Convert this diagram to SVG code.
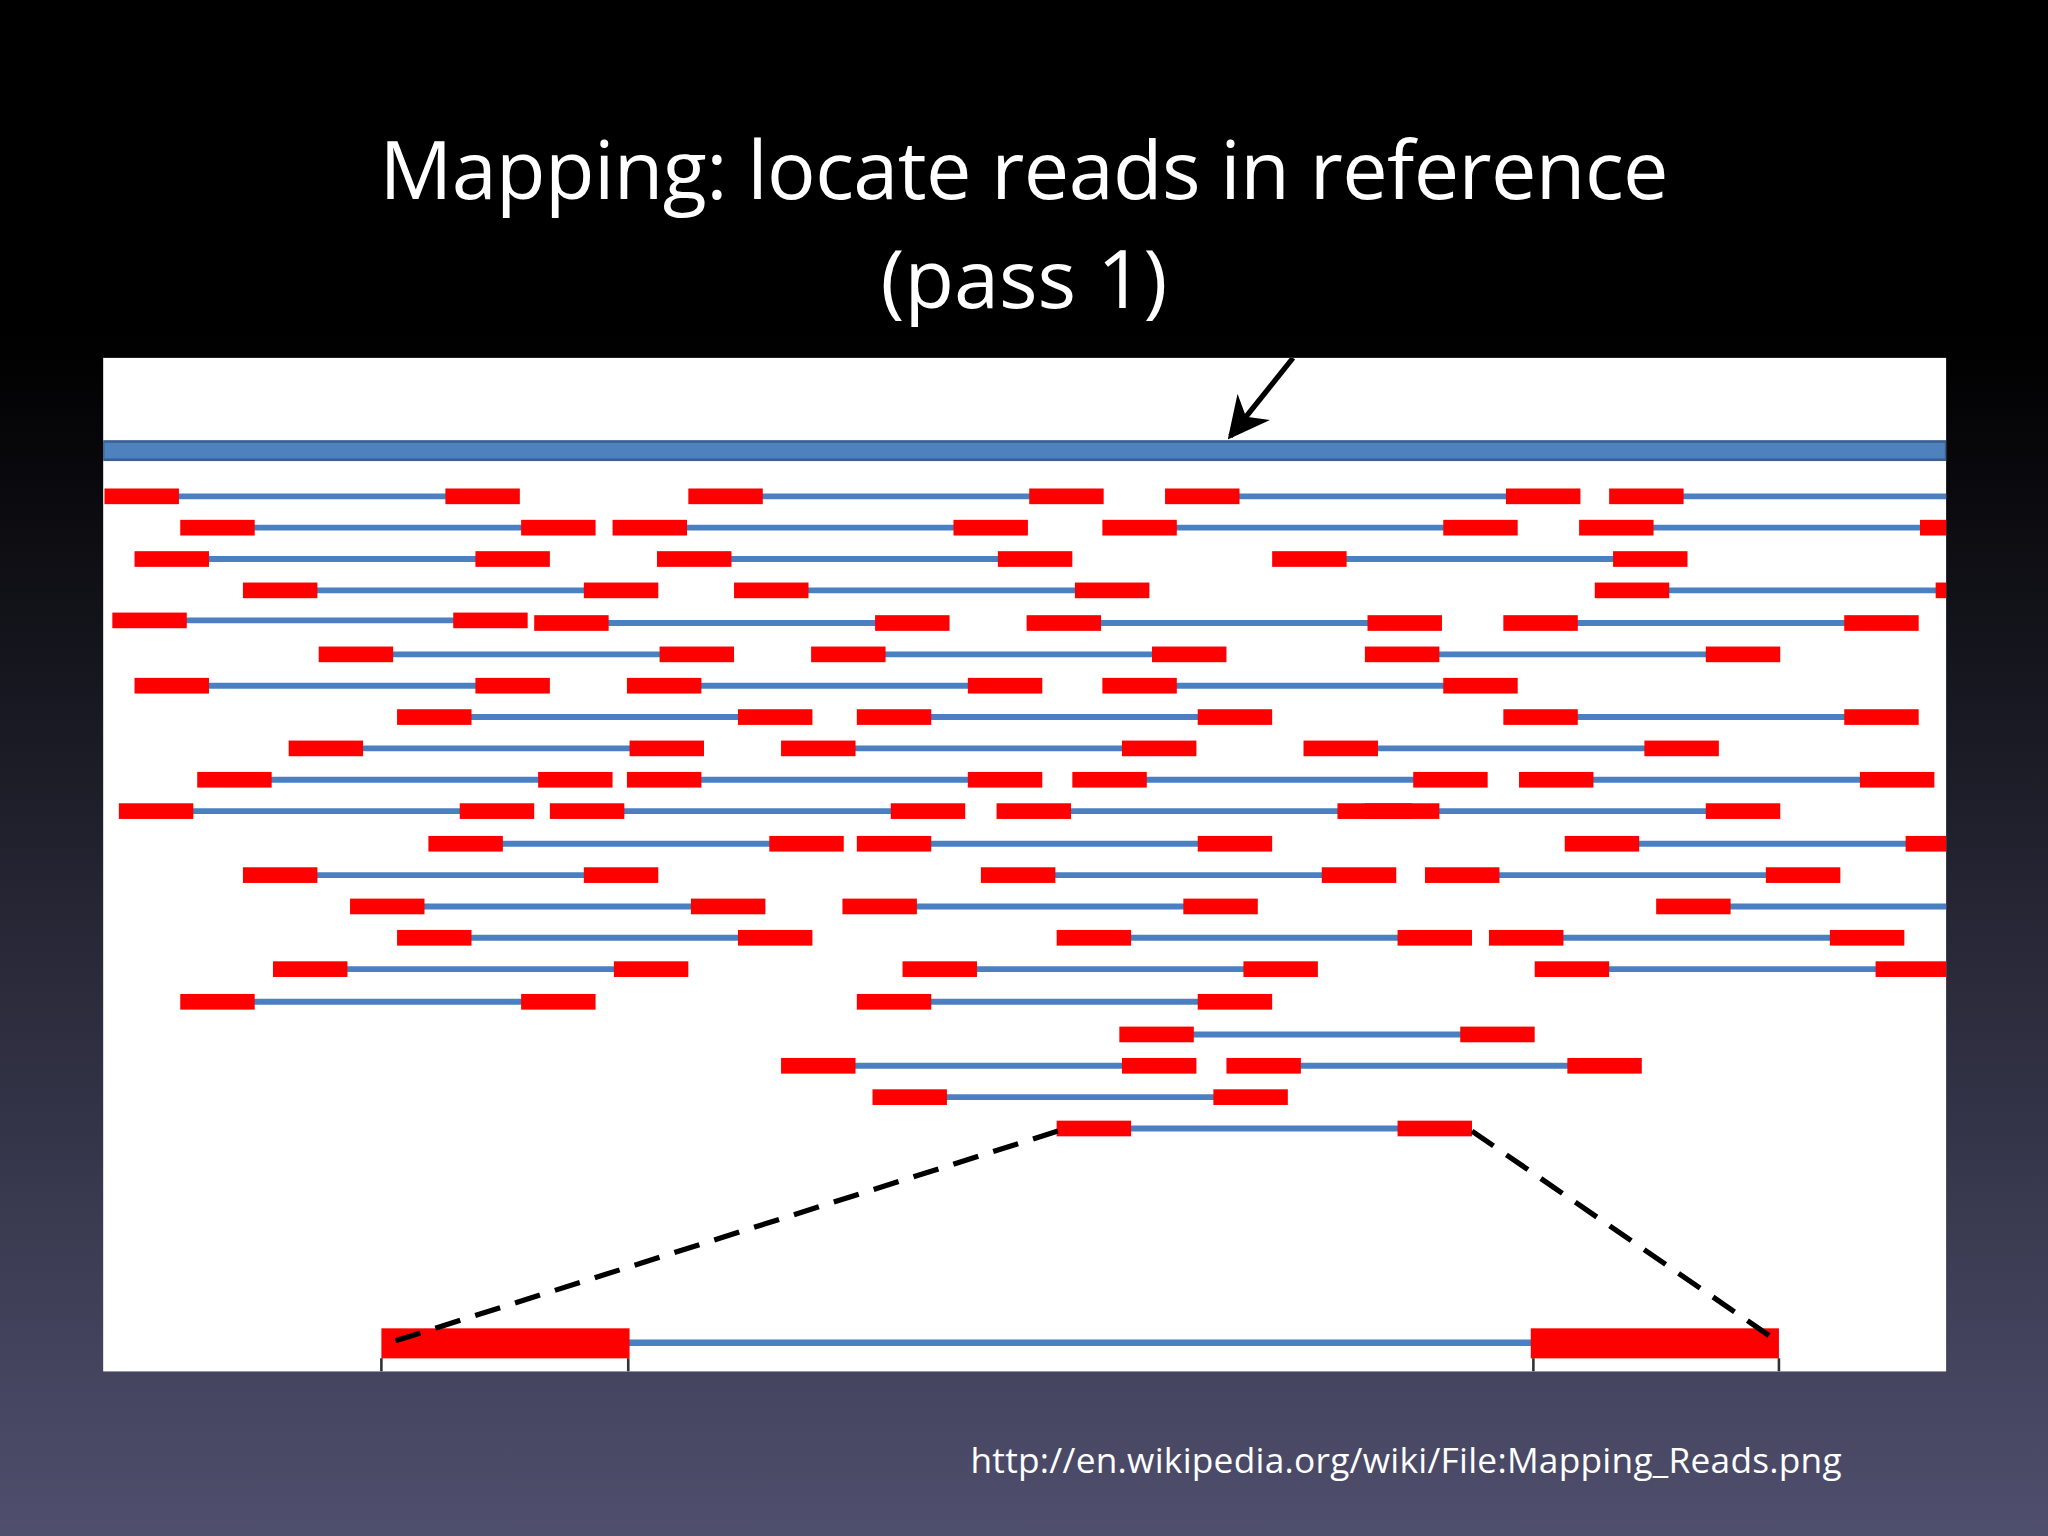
<svg xmlns="http://www.w3.org/2000/svg" xmlns:xlink="http://www.w3.org/1999/xlink" width="2048" height="1536" viewBox="0 0 2048 1536">
<defs>
<linearGradient id="bg" x1="0" y1="0" x2="0" y2="1">
<stop offset="0" stop-color="#000"/><stop offset="0.22" stop-color="#000"/><stop offset="1" stop-color="#4f4f6e"/>
</linearGradient>
<clipPath id="cp"><rect x="79" y="274" width="1411" height="776"/></clipPath>
<g id="p"><line x1="50" y1="0" x2="268" y2="0" stroke="#4a7fc1" stroke-width="4.5"/><rect x="0" y="-6" width="57" height="12" fill="#f00"/><rect x="261" y="-6" width="57" height="12" fill="#f00"/></g>
<marker id="ah" viewBox="0 0 10 10" refX="9" refY="5" markerWidth="8" markerHeight="8" orient="auto"><path d="M0,0 L10,5 L0,10 L3,5 z" fill="#000"/></marker>
<style>text{font-family:"Open Sans","Liberation Sans",sans-serif;fill:#fff}</style>
</defs>
<rect width="2048" height="1536" fill="url(#bg)"/>
<g transform="scale(1.30612)">
<text x="784" y="152" font-size="62" text-anchor="middle" textLength="987">Mapping: locate reads in reference</text>
<text x="784" y="236" font-size="62" text-anchor="middle">(pass 1)</text>
<text x="743" y="1128" font-size="27" textLength="667">http://en.wikipedia.org/wiki/File:Mapping_Reads.png</text>
<rect x="79" y="274" width="1411" height="776" fill="#fff"/>
<g clip-path="url(#cp)">
<rect x="79" y="338" width="1411" height="14" fill="#4f81bd" stroke="#3a6090" stroke-width="2"/>
<g id="reads">
<use xlink:href="#p" x="80" y="380"/><use xlink:href="#p" x="527" y="380"/><use xlink:href="#p" x="892" y="380"/><use xlink:href="#p" x="1232" y="380"/>
<use xlink:href="#p" x="138" y="404"/><use xlink:href="#p" x="469" y="404"/><use xlink:href="#p" x="844" y="404"/><use xlink:href="#p" x="1209" y="404"/>
<use xlink:href="#p" x="103" y="428"/><use xlink:href="#p" x="503" y="428"/><use xlink:href="#p" x="974" y="428"/>
<use xlink:href="#p" x="186" y="452"/><use xlink:href="#p" x="562" y="452"/><use xlink:href="#p" x="1221" y="452"/>
<use xlink:href="#p" x="86" y="475"/><use xlink:href="#p" x="409" y="477"/><use xlink:href="#p" x="786" y="477"/><use xlink:href="#p" x="1151" y="477"/>
<use xlink:href="#p" x="244" y="501"/><use xlink:href="#p" x="621" y="501"/><use xlink:href="#p" x="1045" y="501"/>
<use xlink:href="#p" x="103" y="525"/><use xlink:href="#p" x="480" y="525"/><use xlink:href="#p" x="844" y="525"/>
<use xlink:href="#p" x="304" y="549"/><use xlink:href="#p" x="656" y="549"/><use xlink:href="#p" x="1151" y="549"/>
<use xlink:href="#p" x="221" y="573"/><use xlink:href="#p" x="598" y="573"/><use xlink:href="#p" x="998" y="573"/>
<use xlink:href="#p" x="151" y="597"/><use xlink:href="#p" x="480" y="597"/><use xlink:href="#p" x="821" y="597"/><use xlink:href="#p" x="1163" y="597"/>
<use xlink:href="#p" x="91" y="621"/><use xlink:href="#p" x="421" y="621"/><use xlink:href="#p" x="763" y="621"/><use xlink:href="#p" x="1045" y="621"/>
<use xlink:href="#p" x="328" y="646"/><use xlink:href="#p" x="656" y="646"/><use xlink:href="#p" x="1198" y="646"/>
<use xlink:href="#p" x="186" y="670"/><use xlink:href="#p" x="751" y="670"/><use xlink:href="#p" x="1091" y="670"/>
<use xlink:href="#p" x="268" y="694"/><use xlink:href="#p" x="645" y="694"/><use xlink:href="#p" x="1268" y="694"/>
<use xlink:href="#p" x="304" y="718"/><use xlink:href="#p" x="809" y="718"/><use xlink:href="#p" x="1140" y="718"/>
<use xlink:href="#p" x="209" y="742"/><use xlink:href="#p" x="691" y="742"/><use xlink:href="#p" x="1175" y="742"/>
<use xlink:href="#p" x="138" y="767"/><use xlink:href="#p" x="656" y="767"/>
<use xlink:href="#p" x="857" y="792"/>
<use xlink:href="#p" x="598" y="816"/><use xlink:href="#p" x="939" y="816"/>
<use xlink:href="#p" x="668" y="840"/>
<use xlink:href="#p" x="809" y="864"/>
</g>
<g id="zoom">
<line x1="480" y1="1028" x2="1174" y2="1028" stroke="#4a7fc1" stroke-width="5"/>
<rect x="292" y="1017" width="190" height="23" fill="#f00"/>
<rect x="1172" y="1017" width="190" height="23" fill="#f00"/>
<path d="M292,1040V1050M481,1040V1050M1174,1040V1050M1362,1040V1050" stroke="#333" stroke-width="2"/>
</g>
<g id="connectors" stroke="#000" fill="none">
<line x1="990" y1="274" x2="942" y2="334" stroke-width="4" marker-end="url(#ah)"/>
<line x1="810" y1="866" x2="292" y2="1030" stroke-width="4" stroke-dasharray="20,12"/>
<line x1="1127" y1="866" x2="1358" y2="1025" stroke-width="4" stroke-dasharray="20,12"/>
</g>
</g>
</g>
</svg>
